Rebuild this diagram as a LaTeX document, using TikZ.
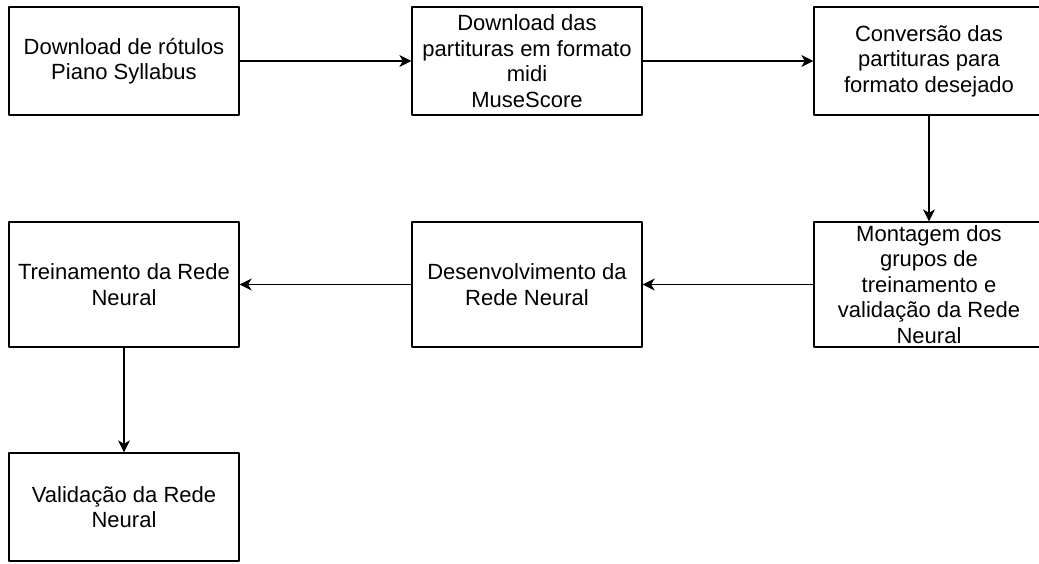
\documentclass[tikz,border=0pt]{standalone}
\usepackage{fontspec}
\setmainfont{Liberation Sans}
\usetikzlibrary{arrows.meta}

\tikzset{
  box/.style={draw, line width=1.3pt, align=center, inner sep=0pt,
    minimum width=230pt, minimum height=108pt,
    font=\fontsize{22}{25.5}\selectfont},
  tall/.style={minimum height=125pt},
  flow/.style={line width=1.3pt, -{Stealth[length=12pt,width=12pt,inset=3.5pt]}}
}

\begin{document}
\begin{tikzpicture}[x=1pt, y=-1pt, line cap=round, line join=round]
  \useasboundingbox (0,0) rectangle (1039,563);
  \clip (0,0) rectangle (1039,563);

  \node[box] (rotulos) at (124,61) {Download de rótulos\\Piano Syllabus};
  \node[box] (midi)    at (527,61) {Download das\\partituras em formato\\midi\\MuseScore};
  \node[box] (conv)    at (929,61) {Conversão das\\partituras para\\formato desejado};

  \node[box,tall] (grupos) at (929,284.5) {Montagem dos\\grupos de\\treinamento e\\validação da Rede\\Neural};
  \node[box,tall] (desenv) at (527,284.5) {Desenvolvimento da\\Rede Neural};
  \node[box,tall] (trein)  at (124,284.5) {Treinamento da Rede\\Neural};

  \node[box] (valid) at (124,507) {Validação da Rede\\Neural};

  \draw[flow] (rotulos) -- (midi);
  \draw[flow] (midi) -- (conv);
  \draw[flow] (conv) -- (grupos); % down to second row
  \draw[flow] (grupos) -- (desenv);
  \draw[flow] (desenv) -- (trein);
  \draw[flow] (trein) -- (valid);
\end{tikzpicture}
\end{document}
